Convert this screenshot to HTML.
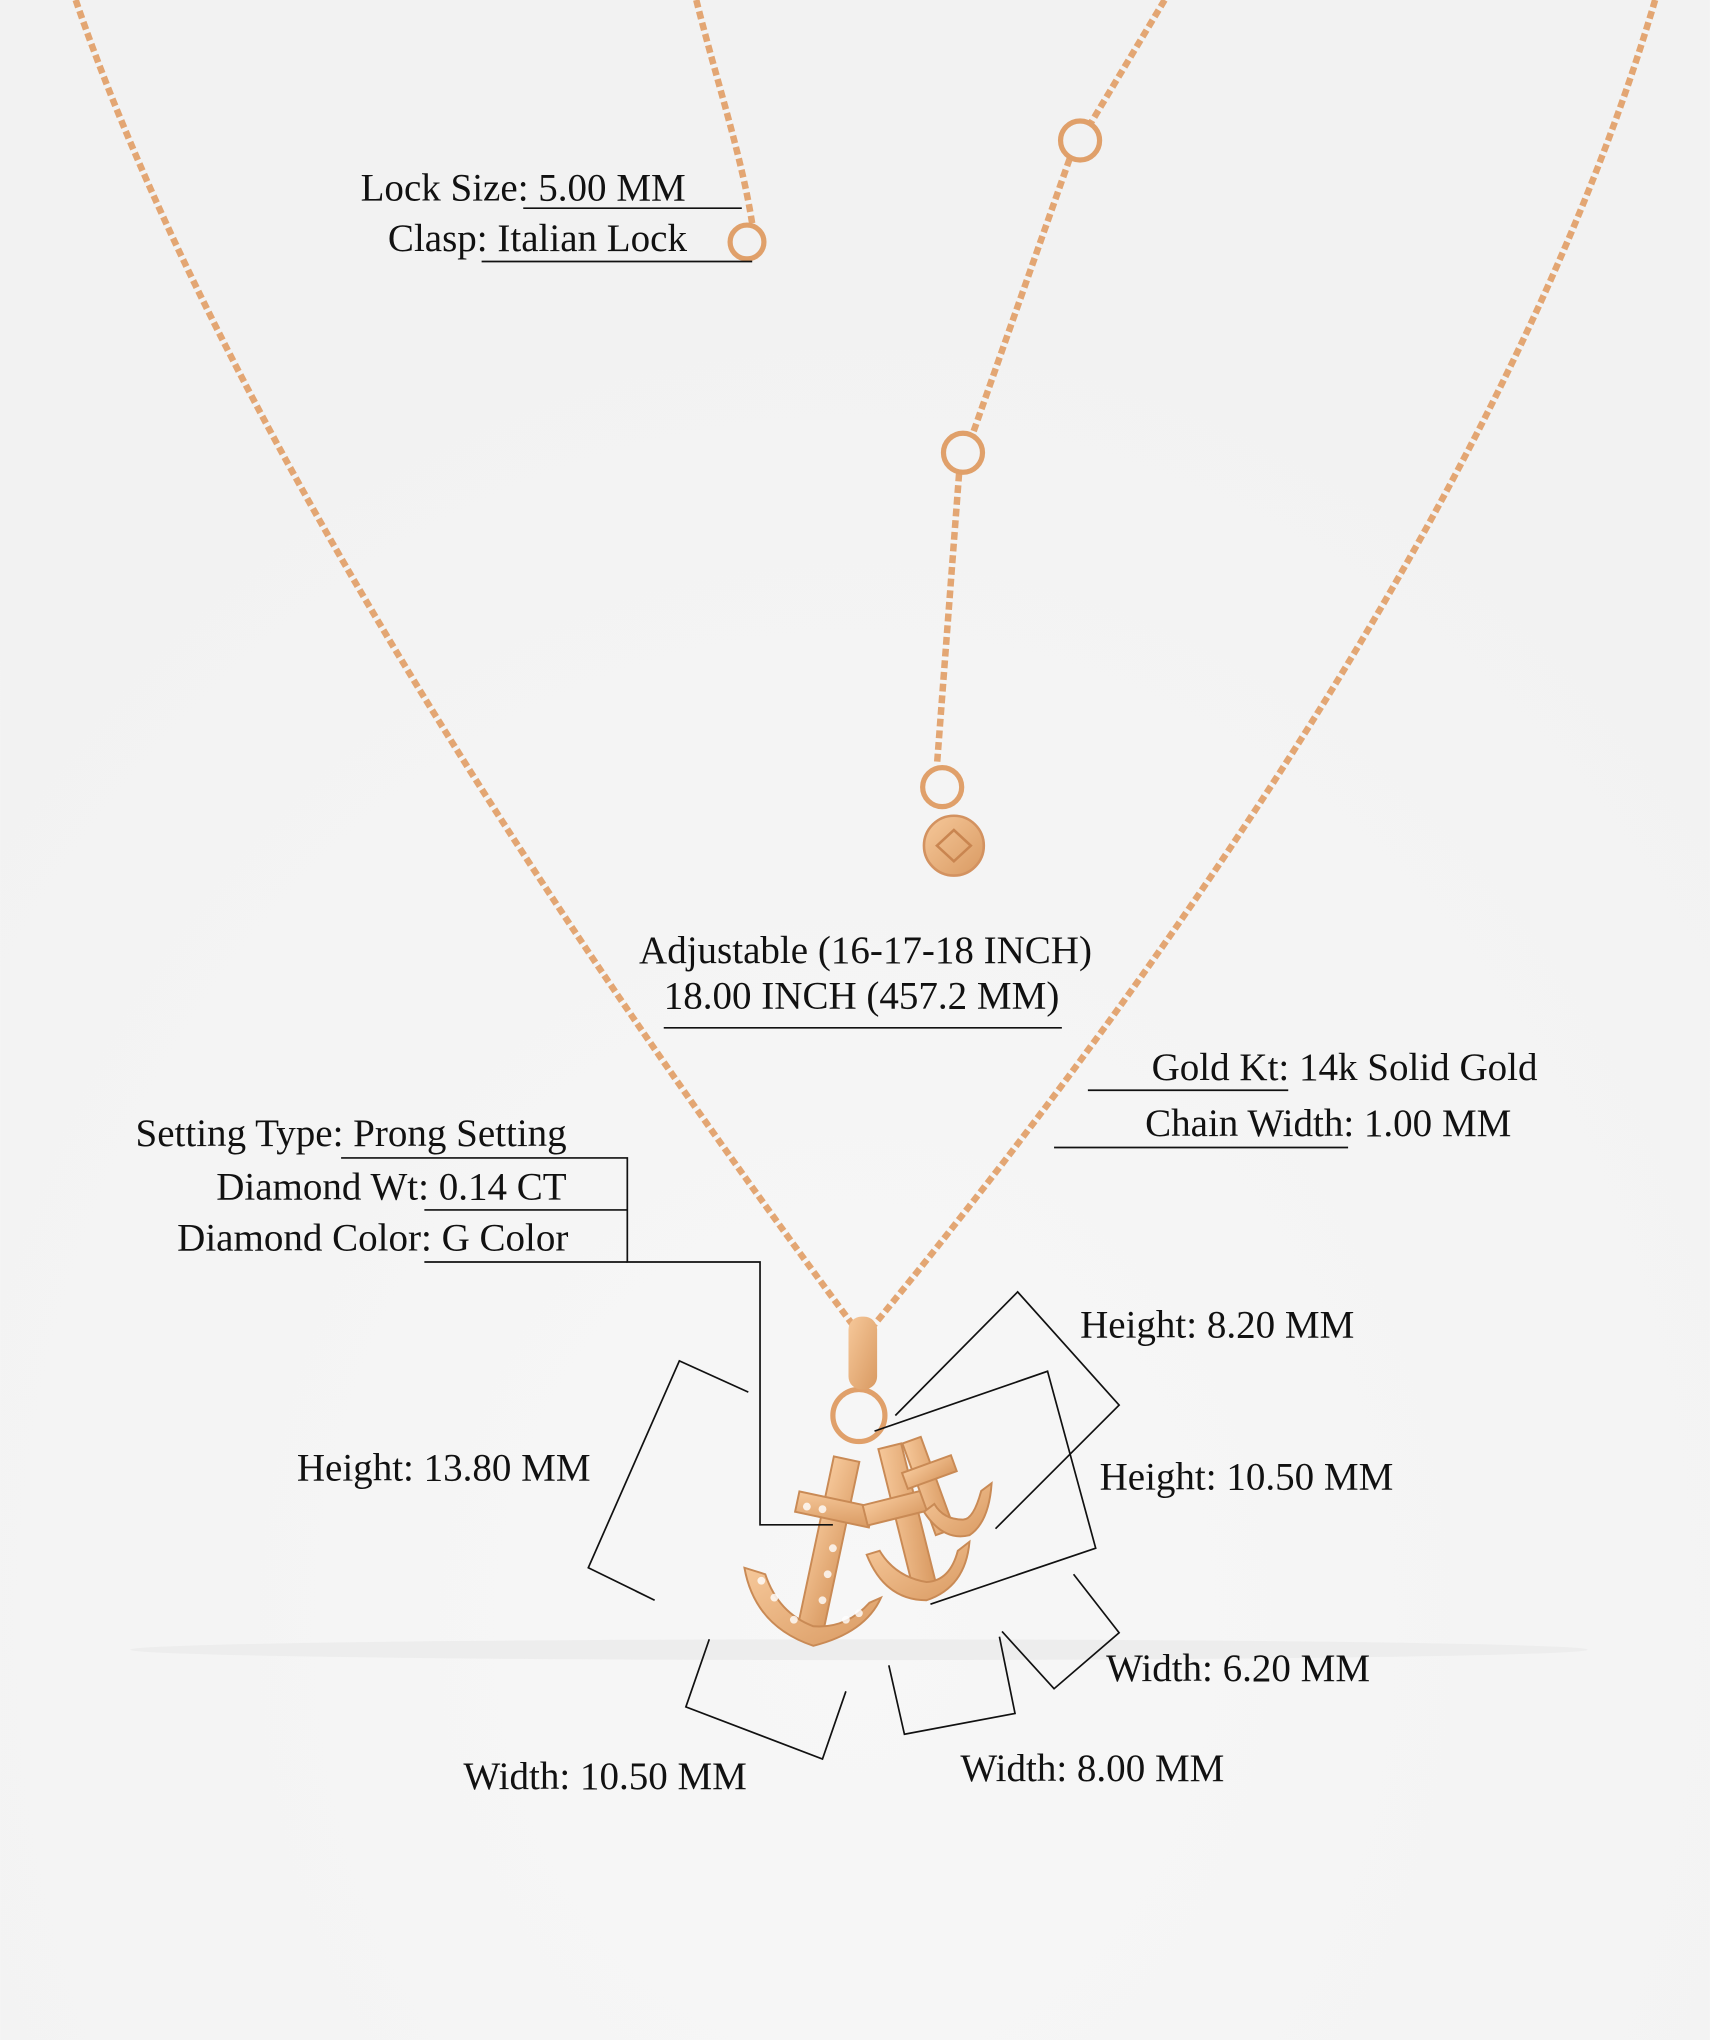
<!DOCTYPE html>
<html><head><meta charset="utf-8"><style>
html,body{margin:0;padding:0;background:#f5f5f5;}
svg{display:block;}
text{font-family:"Liberation Serif",serif;font-size:30px;fill:#111;}
</style></head><body>
<svg width="1710" height="2040" viewBox="0 0 1314 1568" xmlns="http://www.w3.org/2000/svg">
<defs>
<radialGradient id="bg" cx="50%" cy="80%" r="70%"><stop offset="0" stop-color="#f7f7f7"/><stop offset="1" stop-color="#f2f2f2"/></radialGradient>
<linearGradient id="gold" x1="0" y1="0" x2="1" y2="1"><stop offset="0" stop-color="#f6c89a"/><stop offset="1" stop-color="#d99a62"/></linearGradient>
</defs>
<rect width="1314" height="1568" fill="url(#bg)"/>
<ellipse cx="660" cy="1268" rx="560" ry="8" fill="#ededed"/>
<g fill="none" stroke="#e3a673" stroke-width="5" stroke-dasharray="6 3" stroke-linecap="butt">
<path d="M58,0 C140,240 330,580 655,1018"/>
<path d="M1272,0 C1190,280 990,630 672,1018"/>
<path d="M535,0 C550,60 570,120 578,172"/>
<path d="M895,0 L838,95"/>
<path d="M822,122 L748,332"/>
<path d="M737,364 L720,588"/>
</g>
<g fill="none" stroke="#e0a06a" stroke-width="4">
<circle cx="574" cy="186" r="13"/>
<circle cx="830" cy="108" r="15"/>
<circle cx="740" cy="348" r="15"/>
<circle cx="724" cy="605" r="15"/>
<circle cx="660" cy="1088" r="20"/>
</g>
<circle cx="733" cy="650" r="23" fill="url(#gold)" stroke="#d39260" stroke-width="2"/>
<path d="M720,650 L733,638 L746,650 L733,662Z" fill="none" stroke="#c98550" stroke-width="2"/>
<rect x="652" y="1012" width="22" height="56" rx="10" fill="url(#gold)"/>
<g fill="url(#gold)" stroke="#c98a55" stroke-width="1.5">
<rect x="626" y="1120" width="20" height="140" transform="rotate(12 636 1190)"/>
<rect x="612" y="1152" width="58" height="16" transform="rotate(12 640 1160)"/>
<path d="M572,1205 Q580,1250 625,1265 Q665,1255 677,1228 L668,1232 Q650,1252 625,1250 Q598,1240 588,1210Z"/>
<rect x="688" y="1110" width="18" height="110" transform="rotate(-14 697 1165)"/>
<rect x="664" y="1150" width="56" height="16" transform="rotate(-14 692 1158)"/>
<path d="M666,1195 Q680,1230 712,1230 Q742,1220 745,1185 L736,1192 Q730,1215 712,1216 Q688,1212 676,1192Z"/>
<rect x="705" y="1105" width="15" height="75" transform="rotate(-20 712 1140)"/>
<rect x="694" y="1125" width="40" height="13" transform="rotate(-20 714 1131)"/>
<path d="M710,1162 Q725,1185 745,1180 Q760,1170 762,1140 L754,1146 Q748,1168 740,1168 Q725,1168 718,1156Z"/>
</g>
<g fill="#fff" opacity="0.8">
<circle cx="620" cy="1158" r="3"/><circle cx="632" cy="1160" r="3"/><circle cx="640" cy="1190" r="3"/><circle cx="636" cy="1210" r="3"/><circle cx="632" cy="1230" r="3"/><circle cx="610" cy="1245" r="3"/><circle cx="595" cy="1228" r="3"/><circle cx="650" cy="1245" r="3"/><circle cx="585" cy="1215" r="3"/><circle cx="660" cy="1240" r="3"/>
</g>
<g fill="none" stroke="#111" stroke-width="1.3">
<path d="M402,160 H570"/>
<path d="M370,201 H578"/>
<path d="M510,790 H816"/>
<path d="M836,838 H990"/>
<path d="M810,882 H1036"/>
<path d="M262,890 H482 V970 H584 V1172 H640"/>
<path d="M326,930 H482"/>
<path d="M326,970 H482"/>
<path d="M575,1070 L522,1046 L452,1205 L503,1230"/>
<path d="M688,1088 L782,993 L860,1080 L765,1175"/>
<path d="M672,1100 L805,1054 L842,1190 L715,1233"/>
<path d="M545,1260 L527,1312 L632,1352 L650,1300"/>
<path d="M683,1280 L695,1333 L780,1317 L768,1258"/>
<path d="M770,1254 L810,1298 L860,1255 L825,1210"/>
</g>
<text x="277" y="154">Lock Size: 5.00 MM</text>
<text x="298" y="193">Clasp: Italian Lock</text>
<text x="491" y="740">Adjustable (16-17-18 INCH)</text>
<text x="510" y="775">18.00 INCH (457.2 MM)</text>
<text x="885" y="830">Gold Kt: 14k Solid Gold</text>
<text x="880" y="873">Chain Width: 1.00 MM</text>
<text x="104" y="881">Setting Type: Prong Setting</text>
<text x="166" y="922">Diamond Wt: 0.14 CT</text>
<text x="136" y="961">Diamond Color: G Color</text>
<text x="830" y="1028">Height: 8.20 MM</text>
<text x="228" y="1138">Height: 13.80 MM</text>
<text x="845" y="1145">Height: 10.50 MM</text>
<text x="850" y="1292">Width: 6.20 MM</text>
<text x="356" y="1375">Width: 10.50 MM</text>
<text x="738" y="1369">Width: 8.00 MM</text>
</svg>
</body></html>
